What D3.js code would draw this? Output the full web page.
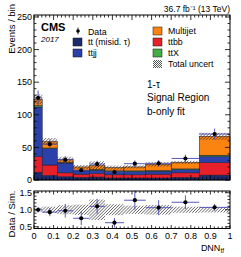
<!DOCTYPE html>
<html><head><meta charset="utf-8">
<script src="https://cdn.jsdelivr.net/npm/d3@7"></script>
<style>body{margin:0;background:#fff}svg{display:block;font-family:"Liberation Sans",Arial,sans-serif}</style>
</head><body><svg id="c" width="241" height="257"></svg>
<script>
// ---- data ----
const binEdges   = [0, 0.042, 0.119, 0.2, 0.282, 0.362, 0.459, 0.57, 0.702, 0.843, 1.0];
const ttMisid    = [12, 7, 5, 4, 4.5, 3, 3, 3, 4, 7.5];
const ttbb       = [24, 16, 6, 5, 5.5, 5, 5, 6, 7, 19];
const ttjj       = [76, 25, 15, 5, 5, 5, 5, 4.5, 5, 9.5];
const ttX        = [2, 1, 1, 0.5, 1, 1, 1, 1, 1, 2];
const multijet   = [10, 10, 4.5, 5.5, 6, 5, 6, 9.5, 10, 29];
const dataVals   = [126, 55, 31, 15, 24.5, 12, 25, 25.5, 33, 70.5];
const uncRel     = [0.06, 0.09, 0.13, 0.15, 0.3, 0.16, 0.12, 0.14, 0.09, 0.08];
const ratioVals  = [1.0, 0.93, 0.97, 0.75, 1.1, 0.62, 1.28, 1.06, 1.22, 1.07];
const ratioErr   = [0.08, 0.12, 0.2, 0.2, 0.22, 0.14, 0.28, 0.22, 0.2, 0.1];
const yTicksMain = [0, 50, 100, 150, 200, 250];
const xTicks     = [0, 0.1, 0.2, 0.3, 0.4, 0.5, 0.6, 0.7, 0.8, 0.9, 1];
const xTickLabels= ["0","0.1","0.2","0.3","0.4","0.5","0.6","0.7","0.8","0.9","1"];
const yTicksRatio= [0.5, 1.0, 1.5];
const yTickRatioLabels = ["0.5","1.0","1.5"];
const series = [
  {name:"tt (misid. τ)", vals: ttMisid, color:"#1c2a6e"},
  {name:"ttbb", vals: ttbb, color:"#e8202a"},
  {name:"ttjj", vals: ttjj, color:"#2b40aa"},
  {name:"ttX", vals: ttX, color:"#43ac43"},
  {name:"Multijet", vals: multijet, color:"#fb8410"}
];

const svg = d3.select("#c");
const L = 34, R = 230, mainTop = 15, mainBot = 180, rTop = 191, rBot = 228.5;
const x = d3.scaleLinear().domain([0,1]).range([L,R]);
const y = d3.scaleLinear().domain([0,253]).range([mainBot, mainTop]);
const yr = d3.scaleLinear().domain([0.45,1.55]).range([rBot, rTop]);

// hatch pattern
const defs = svg.append("defs");
const pat = defs.append("pattern").attr("id","hatch").attr("patternUnits","userSpaceOnUse")
  .attr("width",2.2).attr("height",2.2).attr("patternTransform","rotate(45)");
pat.append("line").attr("x1",0).attr("y1",0).attr("x2",0).attr("y2",2.2)
  .attr("stroke","#222").attr("stroke-width",1);
const pat2 = defs.append("pattern").attr("id","hatch2").attr("patternUnits","userSpaceOnUse")
  .attr("width",2).attr("height",2);
pat2.append("rect").attr("width",2).attr("height",2).attr("fill","#fff");
pat2.append("rect").attr("width",1).attr("height",1).attr("fill","#555");
pat2.append("rect").attr("x",1).attr("y",1).attr("width",1).attr("height",1).attr("fill","#555");

const nb = dataVals.length;
const bins = d3.range(nb).map(i => ({i, x0: binEdges[i], x1: binEdges[i+1]}));

// stack
const cum = new Array(nb).fill(0);
const gStack = svg.append("g");
series.forEach(s => {
  bins.forEach(b => {
    const lo = cum[b.i], hi = lo + s.vals[b.i];
    gStack.append("rect").attr("x", x(b.x0)).attr("width", x(b.x1)-x(b.x0))
      .attr("y", y(hi)).attr("height", y(lo)-y(hi))
      .attr("fill", s.color).attr("stroke","#1a1a2a").attr("stroke-width",0.5);
  });
  bins.forEach(b => cum[b.i] += s.vals[b.i]);
});
const totals = cum.slice();

// uncertainty band
bins.forEach(b => {
  const t = totals[b.i], u = uncRel[b.i]*t;
  svg.append("rect").attr("x", x(b.x0)).attr("width", x(b.x1)-x(b.x0))
    .attr("y", y(t+u)).attr("height", y(t-u)-y(t+u)).attr("fill","url(#hatch)");
});

// data
const errCol = "#4646b8";
bins.forEach(b => {
  const v = dataVals[b.i], e = Math.sqrt(v), cx = x((b.x0+b.x1)/2);
  svg.append("line").attr("x1", x(b.x0)).attr("x2", x(b.x1)).attr("y1", y(v)).attr("y2", y(v))
    .attr("stroke", errCol).attr("stroke-width",0.9);
  svg.append("line").attr("x1", cx).attr("x2", cx).attr("y1", y(v-e)).attr("y2", y(v+e))
    .attr("stroke", errCol).attr("stroke-width",0.9);
  svg.append("circle").attr("cx", cx).attr("cy", y(v)).attr("r", 2.1).attr("fill","#000");
});

// ratio panel
bins.forEach(b => {
  const u = uncRel[b.i];
  svg.append("rect").attr("x", x(b.x0)).attr("width", x(b.x1)-x(b.x0))
    .attr("y", yr(1+u)).attr("height", yr(1-u)-yr(1+u)).attr("fill","url(#hatch)");
});
bins.forEach(b => {
  const v = ratioVals[b.i], e = ratioErr[b.i], cx = x((b.x0+b.x1)/2);
  svg.append("line").attr("x1", x(b.x0)).attr("x2", x(b.x1)).attr("y1", yr(v)).attr("y2", yr(v))
    .attr("stroke", errCol).attr("stroke-width",0.9);
  svg.append("line").attr("x1", cx).attr("x2", cx).attr("y1", yr(v-e)).attr("y2", yr(v+e))
    .attr("stroke", errCol).attr("stroke-width",0.9);
  svg.append("circle").attr("cx", cx).attr("cy", yr(v)).attr("r", 2.1).attr("fill","#000");
});

// frames & ticks
function frame(t, b){
  svg.append("rect").attr("x",L).attr("y",t).attr("width",R-L).attr("height",b-t)
    .attr("fill","none").attr("stroke","#000").attr("stroke-width",1);
}
frame(mainTop, mainBot); frame(rTop, rBot);
function tick(x1,y1,x2,y2){ svg.append("line").attr("x1",x1).attr("y1",y1).attr("x2",x2).attr("y2",y2).attr("stroke","#000").attr("stroke-width",0.8); }
[[mainTop,mainBot,5,2.5],[rTop,rBot,3.5,2]].forEach(([t,b,maj,mn]) => {
  d3.range(0,51).forEach(k => {
    const v = k*0.02, len = (k%5===0)? maj : mn, px = x(v);
    tick(px,b,px,b-len); tick(px,t,px,t+len);
  });
});
d3.range(0,251,10).forEach(v => {
  const len = (v%50===0)? 5 : 2.5;
  tick(L,y(v),L+len,y(v)); tick(R,y(v),R-len,y(v));
});
d3.range(0.5,1.55,0.1).forEach(v => {
  const isMaj = Math.abs(v-0.5)<1e-6 || Math.abs(v-1)<1e-6 || Math.abs(v-1.5)<1e-6;
  const len = isMaj? 5 : 2.5;
  tick(L,yr(v),L+len,yr(v)); tick(R,yr(v),R-len,yr(v));
});

// labels
const fs = 9;
yTicksMain.forEach(v => svg.append("text").attr("x",L-2).attr("y",y(v)+3.2).attr("text-anchor","end")
  .attr("font-size",fs).text(v));
yTicksRatio.forEach((v,i) => svg.append("text").attr("x",L-2).attr("y",yr(v)+3.2).attr("text-anchor","end")
  .attr("font-size",fs).text(yTickRatioLabels[i]));
xTicks.forEach((v,i) => svg.append("text").attr("x",x(v)).attr("y",rBot+10).attr("text-anchor","middle")
  .attr("font-size",fs).text(xTickLabels[i]));

svg.append("text").attr("transform","translate(15,4) rotate(-90)").attr("text-anchor","end")
  .attr("font-size",9.5).text("Events / bin");
svg.append("text").attr("transform","translate(15,214) rotate(-90)").attr("text-anchor","middle")
  .attr("font-size",9.5).text("Data / Sim.");
const xt = svg.append("text").attr("x",224).attr("y",251).attr("text-anchor","end").attr("font-size",9);
xt.append("tspan").text("DNN");
xt.append("tspan").attr("font-size",6.5).attr("dy",2).text("tf");

svg.append("text").attr("x",R).attr("y",12).attr("text-anchor","end").attr("font-size",8.5)
  .text("36.7 fb⁻¹ (13 TeV)");
svg.append("text").attr("x",41).attr("y",31).attr("font-size",11).attr("font-weight","bold").text("CMS");
svg.append("text").attr("x",41).attr("y",42).attr("font-size",8).attr("font-style","italic").text("2017");

svg.append("text").attr("x",147).attr("y",88).attr("font-size",10).text("1-τ");
svg.append("text").attr("x",147).attr("y",101).attr("font-size",10).text("Signal Region");
svg.append("text").attr("x",147).attr("y",115).attr("font-size",10).text("b-only fit");

// legend
const lf = 8.8;
svg.append("line").attr("x1",78).attr("x2",78).attr("y1",27.5).attr("y2",34.5).attr("stroke","#000").attr("stroke-width",0.8);
svg.append("circle").attr("cx",78).attr("cy",31).attr("r",1.8).attr("fill","#000");
svg.append("text").attr("x",88).attr("y",34.5).attr("font-size",lf).text("Data");
const legLeft = [series[0], series[2]];
legLeft.forEach((s,i) => {
  const yy = 38 + i*11;
  svg.append("rect").attr("x",73).attr("y",yy).attr("width",9).attr("height",8).attr("fill",s.color)
    .attr("stroke","#111").attr("stroke-width",0.5);
  svg.append("text").attr("x",88).attr("y",yy+7).attr("font-size",lf).text(s.name);
});
const legRight = [series[4], series[1], series[3]];
legRight.forEach((s,i) => {
  const yy = 27 + i*11;
  svg.append("rect").attr("x",153).attr("y",yy).attr("width",9).attr("height",8).attr("fill",s.color)
    .attr("stroke","#111").attr("stroke-width",0.5);
  svg.append("text").attr("x",168).attr("y",yy+7).attr("font-size",lf).text(s.name);
});
svg.append("rect").attr("x",153).attr("y",60).attr("width",9).attr("height",8).attr("fill","url(#hatch2)");
svg.append("text").attr("x",168).attr("y",67).attr("font-size",lf).text("Total uncert");
</script></body></html>
